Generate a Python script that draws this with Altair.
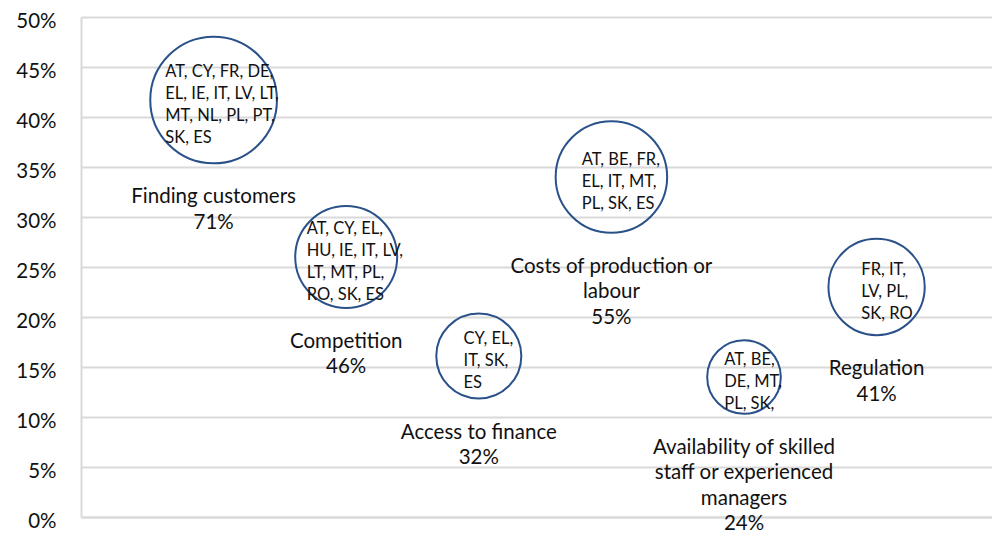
import math
import altair as alt
import pandas as pd

# ---------------- data ----------------
categories = [
    "Finding customers",
    "Competition",
    "Access to finance",
    "Costs of production or labour",
    "Availability of skilled staff or experienced managers",
    "Regulation",
]
label_lines = [
    ["Finding customers"],
    ["Competition"],
    ["Access to finance"],
    ["Costs of production or", "labour"],
    ["Availability of skilled", "staff or experienced", "managers"],
    ["Regulation"],
]
# share citing the problem (bubble size, shown in label)
share_cited = [0.71, 0.46, 0.32, 0.55, 0.24, 0.41]
# vertical position of each bubble
share_y = [0.417, 0.26, 0.161, 0.34, 0.14, 0.23]
country_lines = [
    ["AT, CY, FR, DE,", "EL, IE, IT,  LV, LT,", "MT, NL, PL, PT,", "SK, ES"],
    ["AT, CY, EL,", "HU, IE, IT, LV,", "LT, MT, PL,", "RO, SK, ES"],
    ["CY, EL,", "IT, SK,", "ES"],
    ["AT, BE, FR,", "EL, IT, MT,", "PL, SK, ES"],
    ["AT, BE,", "DE, MT,", "PL, SK,"],
    ["FR, IT,", "LV, PL,", "SK, RO"],
]
y_ticks = [0.0, 0.05, 0.10, 0.15, 0.20, 0.25, 0.30, 0.35, 0.40, 0.45, 0.50]

# ---------------- layout / style ----------------
PLOT_W, PLOT_H = 911, 500
PX_X = 132.6
X_MAX, Y_MAX = PLOT_W / PX_X, 0.5
PX_Y = PLOT_H / Y_MAX
SIZE_K = 22600            # symbol size (diameter^2, px^2) for a share of 1.0
FONT = "Lato"
BLUE = "#2A5189"
GRID = "#D9D9D9"
INK = "#111111"
INNER_FS, INNER_LH = 16.5, 22
LABEL_FS, LABEL_LH = 20.5, 25.5

# rough character widths (em) for estimating the text block width
EM = {" ": .226, ",": .25, "A": .579, "B": .544, "C": .533, "D": .615, "E": .488,
      "F": .459, "H": .623, "I": .252, "K": .52, "L": .42, "M": .855, "N": .646,
      "O": .662, "P": .517, "R": .543, "S": .459, "T": .487, "U": .653, "V": .567,
      "Y": .487}


def est_width(s):
    return sum(EM.get(c, .5) for c in " ".join(s.split())) * 17.5


rows = []
for i, cat in enumerate(categories):
    xv = i + 1
    f = share_cited[i]
    r = math.sqrt(SIZE_K * f) / 2
    lines = country_lines[i]
    n = len(lines)
    maxw = max(est_width(s) for s in lines)
    dx_in = 8 - maxw / 2
    dy_in = 4 - 0.43 * INNER_FS - (n - 1) * INNER_LH / 2
    lab = "\n".join(label_lines[i] + [f"{round(f * 100)}%"])
    rows.append({
        "category": cat,
        "x": xv,
        "y": share_y[i],
        "share": f,
        "inner": "\n".join(lines),
        "inner_x": xv + dx_in / PX_X,
        "inner_y": share_y[i] - dy_in / PX_Y,
        "label": lab,
        "label_y": share_y[i] - (r + 24) / PX_Y,
    })

df = pd.DataFrame(rows)

xscale = alt.Scale(domain=[0, X_MAX], nice=False, zero=False)
yscale = alt.Scale(domain=[0, Y_MAX], nice=False)

base = alt.Chart(df)

bubbles = base.mark_point(shape="circle", filled=False, strokeWidth=2,
                          color=BLUE, opacity=1).encode(
    x=alt.X("x:Q", scale=xscale,
            axis=alt.Axis(labels=False, ticks=False, grid=False, title=None,
                          domainColor=GRID, domainWidth=2)),
    y=alt.Y("y:Q", scale=yscale,
            axis=alt.Axis(values=y_ticks, format=".0%", title=None, ticks=False,
                          grid=True, gridColor=GRID, gridWidth=2,
                          domainColor=GRID, domainWidth=2,
                          labelFont=FONT, labelFontSize=20.5, labelColor=INK,
                          labelPadding=25, labelOffset=4.5)),
    size=alt.Size("share:Q", scale=alt.Scale(domain=[0, 1], range=[0, SIZE_K]),
                  legend=None),
)

inner = base.mark_text(align="left", baseline="top", lineBreak="\n",
                       font=FONT, fontSize=INNER_FS, lineHeight=INNER_LH,
                       color=INK).encode(
    x=alt.X("inner_x:Q", scale=xscale),
    y=alt.Y("inner_y:Q", scale=yscale),
    text="inner:N",
)

labels = base.mark_text(align="center", baseline="top", lineBreak="\n",
                        font=FONT, fontSize=LABEL_FS, lineHeight=LABEL_LH,
                        color=INK).encode(
    x=alt.X("x:Q", scale=xscale),
    y=alt.Y("label_y:Q", scale=yscale),
    text="label:N",
)

chart = alt.layer(bubbles, inner, labels).properties(
    width=PLOT_W, height=PLOT_H,
    autosize=alt.AutoSizeParams(type="none"),
    padding={"left": 73, "top": 9, "right": 0, "bottom": 19},
).configure_view(strokeWidth=0).configure(background="white")

chart.save("out.html", embed_options={"renderer": "svg", "actions": False})
